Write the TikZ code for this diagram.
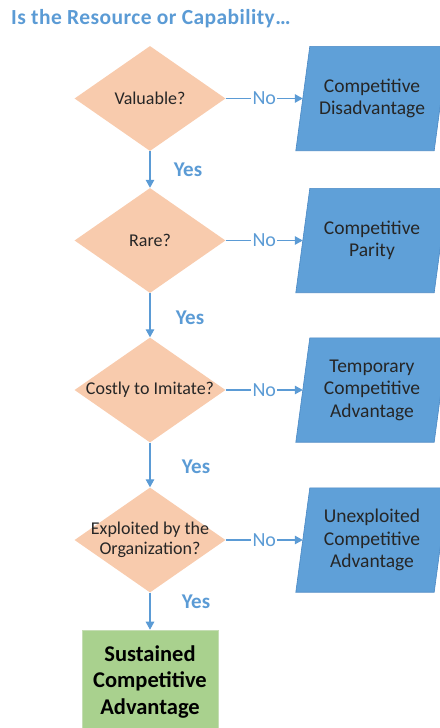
\documentclass[tikz,border=0pt]{standalone}
\usepackage{fontspec}
\setmainfont{Carlito}
\usetikzlibrary{shapes.geometric,arrows.meta,backgrounds}
\definecolor{flowblue}{HTML}{5B9BD5}
\definecolor{boxblue}{HTML}{5FA0D8}
\definecolor{boxedge}{HTML}{4A88C4}
\definecolor{peach}{HTML}{F8CBAD}
\definecolor{leafgreen}{HTML}{A9D18E}
\definecolor{leafedge}{HTML}{C5DDB4}
\definecolor{inkgray}{HTML}{262626}
% slanted box behind an outcome node
\newcommand\slantbox[1]{%
  \begin{pgfonlayer}{background}
    \draw[outcomeshape] ([xshift=-7pt]#1.south west) -- ([xshift=7pt]#1.north west)
      -- ([xshift=7pt]#1.north east) -- ([xshift=-7pt]#1.south east) -- cycle;
  \end{pgfonlayer}}
\begin{document}
\begin{tikzpicture}[x=1pt, y=-1pt,
    decision/.style={diamond, fill=peach, inner sep=0pt,
      minimum width=151pt, minimum height=105pt},
    question/.style={font=\fontsize{18}{20.5}\selectfont, text=inkgray, align=center},
    outcome/.style={rectangle, minimum width=138pt, minimum height=104pt, inner sep=0pt,
      font=\fontsize{19.5}{22.5}\selectfont, text=inkgray, align=center},
    outcomeshape/.style={fill=boxblue, draw=boxedge, line width=0.6pt},
    result/.style={rectangle, fill=leafgreen, draw=leafedge, line width=0.6pt,
      minimum width=136pt, minimum height=104pt, inner sep=0pt,
      font=\bfseries\fontsize{22.5}{26.5}\selectfont, text=black, align=center},
    flow/.style={draw=flowblue, line width=1.3pt,
      -{Triangle[length=8pt,width=8.5pt]}},
    yes/.style={font=\bfseries\fontsize{21}{24}\selectfont, text=flowblue, anchor=west},
    nolabel/.style={font=\fontsize{20}{24}\selectfont, text=flowblue,
      fill=white, inner sep=1.5pt}]
  \useasboundingbox (0,0) rectangle (439,728);
  \clip (0,0) rectangle (439,728);
  % Title
  \node[font=\bfseries\fontsize{21.5}{24}\selectfont\addfontfeature{LetterSpace=2},
    text=flowblue, anchor=base west, inner sep=0pt] (title) at (11,24)
    {Is the Resource or Capability\ldots};
  % Questions
  \node[decision, label={[question]center:Valuable?}] (q1) at (150,98.5) {};
  \node[decision, label={[question]center:Rare?}] (q2) at (150,240.5) {};
  \node[decision, label={[question]center:Costly to Imitate?}] (q3) at (150,390) {};
  \node[decision, label={[question]center:Exploited by the\\Organization?}] (q4) at (150,540) {};
  % Outcomes
  \node[outcome] (o1) at (372,98.5) {Competitive\\Disadvantage};
  \node[outcome] (o2) at (372,240.5) {Competitive\\Parity};
  \node[outcome] (o3) at (372,390) {Temporary\\Competitive\\Advantage};
  \node[outcome] (o4) at (372,540) {Unexploited\\Competitive\\Advantage};
  \slantbox{o1}\slantbox{o2}\slantbox{o3}\slantbox{o4}
  \node[result] (sca) at (150,682) {Sustained\\Competitive\\Advantage};
  % Yes connectors
  \draw[flow] (q1) -- node[yes, pos=0.5, xshift=20pt] {Yes} (q2);
  \draw[flow] (q2) -- node[yes, pos=0.55, xshift=22pt] {Yes} (q3);
  \draw[flow] (q3) -- node[yes, pos=0.55, xshift=28pt] {Yes} (q4);
  \draw[flow] (q4) -- node[yes, pos=0.25, xshift=28pt] {Yes} (sca);
  % No connectors
  \draw[flow] (q1) -- node[nolabel] {No} (o1);
  \draw[flow] (q2) -- node[nolabel] {No} (o2);
  \draw[flow] (q3) -- node[nolabel] {No} (o3);
  \draw[flow] (q4) -- node[nolabel] {No} (o4);
\end{tikzpicture}
\end{document}
